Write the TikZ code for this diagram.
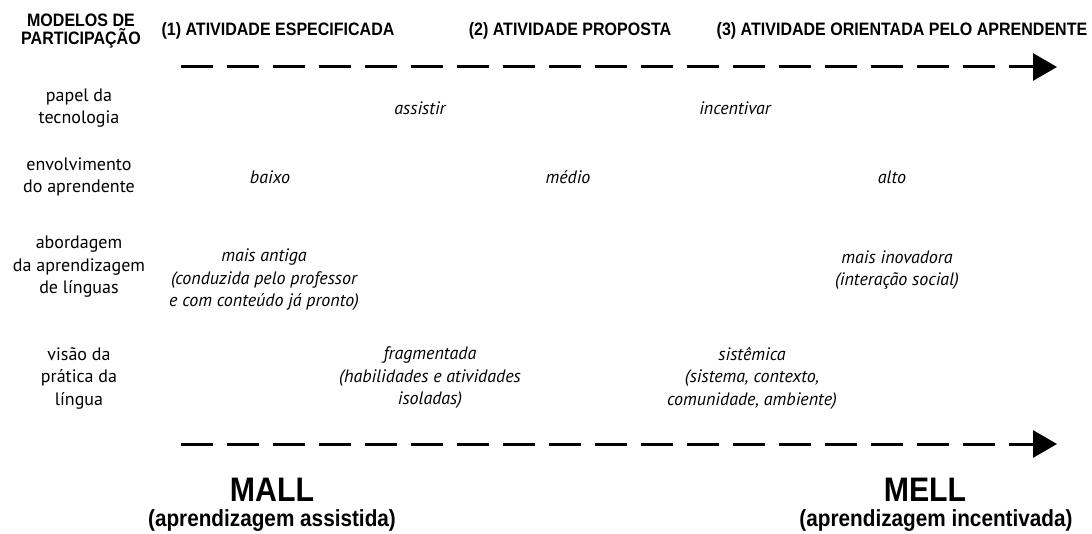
\documentclass[tikz,border=0pt]{standalone}
\usepackage{fontspec}
\setmainfont{PT Sans}
\newfontfamily\hdfont[FakeStretch=0.89]{Liberation Sans}
\usetikzlibrary{arrows.meta}
\begin{document}
\begin{tikzpicture}[x=1pt,y=-1pt,
  hd/.style={font=\hdfont\bfseries\fontsize{18}{18.5}\selectfont, inner sep=0pt, align=center},
  lab/.style={font=\fontsize{18}{22.5}\selectfont, inner sep=0pt, align=center},
  val/.style={font=\itshape\fontsize{18}{22.5}\selectfont, inner sep=0pt, align=center},
  big/.style={font=\hdfont\bfseries\fontsize{34}{36}\selectfont, inner sep=0pt},
  sub/.style={font=\hdfont\bfseries\fontsize{23.3}{25}\selectfont, inner sep=0pt},
  dasharrow/.style={line width=3pt, dash pattern=on 32pt off 14pt, -{Triangle[length=24pt,width=27pt]}}]
\useasboundingbox (0,0) rectangle (1092,534);
% header
\node[hd] (modelos) at (81,31) {MODELOS DE\\PARTICIPAÇÃO};
\node[hd] (at1) at (278,31) {(1) ATIVIDADE ESPECIFICADA};
\node[hd] (at2) at (570,31) {(2) ATIVIDADE PROPOSTA};
\node[hd] (at3) at (902,31) {(3) ATIVIDADE ORIENTADA PELO APRENDENTE};
% top arrow
\coordinate (ta) at (181,67);
\coordinate (tb) at (1057,67);
\draw[dasharrow] (ta) -- (tb);
% rows
\node[lab] (r1) at (79,108) {papel da\\tecnologia};
\node[val] (assistir) at (420,108) {assistir};
\node[val] (incentivar) at (735,108) {incentivar};
\node[lab] (r2) at (79,177) {envolvimento\\do aprendente};
\node[val] (baixo) at (270,177) {baixo};
\node[val] (medio) at (568,177) {médio};
\node[val] (alto) at (892,177) {alto};
\node[lab] (r3) at (79,267) {abordagem\\da aprendizagem\\de línguas};
\node[val] (antiga) at (264,280) {mais antiga\\(conduzida pelo professor\\e com conteúdo já pronto)};
\node[val] (inovadora) at (897,270) {mais inovadora\\(interação social)};
\node[lab] (r4) at (79,378) {visão da\\prática da\\língua};
\node[val] (fragm) at (430,378) {fragmentada\\(habilidades e atividades\\isoladas)};
\node[val] (sistem) at (752,378) {sistêmica\\(sistema, contexto,\\comunidade, ambiente)};
% bottom arrow
\coordinate (ba) at (181,444);
\coordinate (bb) at (1057,444);
\draw[dasharrow] (ba) -- (bb);
% bottom labels
\node[big] (mall) at (272,490) {MALL};
\node[sub] (malls) at (272,521) {(aprendizagem assistida)};
\node[big] (mell) at (925,490) {MELL};
\node[sub] (mells) at (936,521) {(aprendizagem incentivada)};
\end{tikzpicture}
\end{document}
